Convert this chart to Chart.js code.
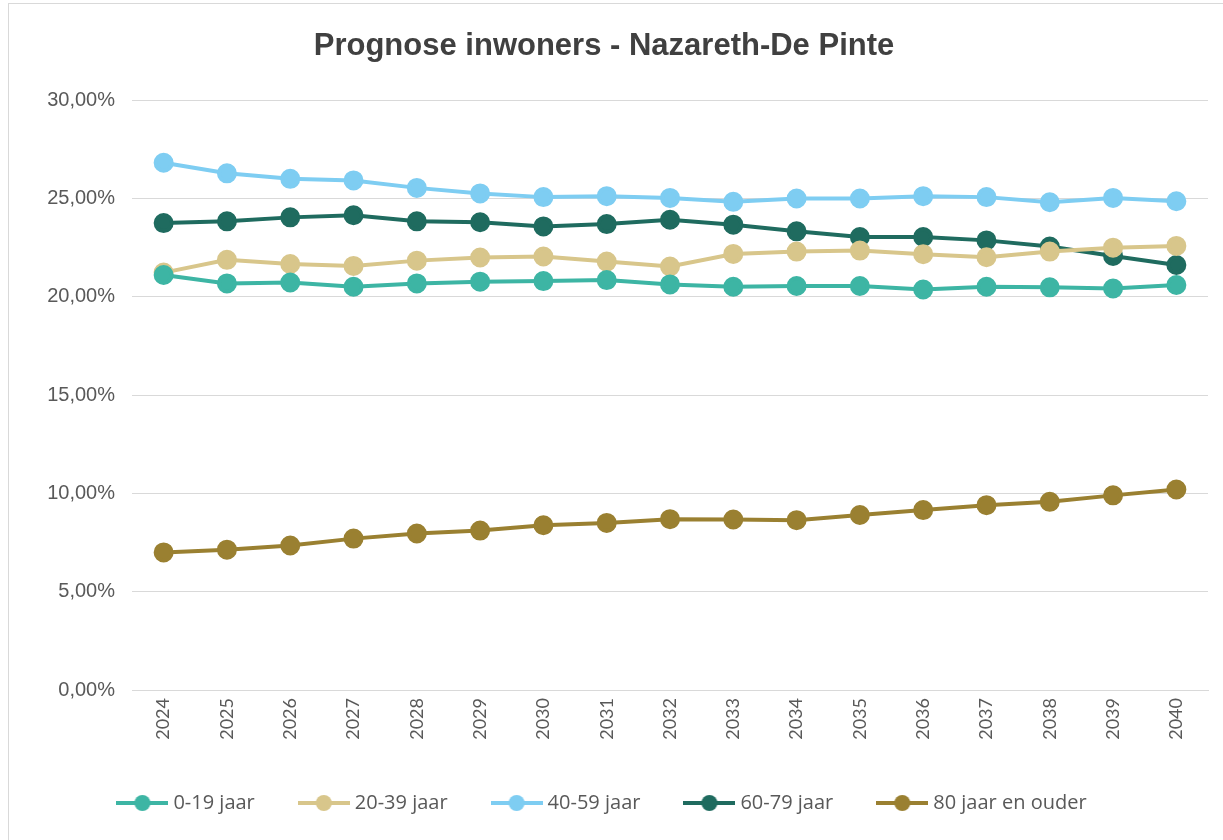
<!DOCTYPE html>
<html>
<head>
<meta charset="utf-8">
<script src="https://cdn.jsdelivr.net/npm/chart.js@4.4.1/dist/chart.umd.min.js"></script>
<style>
  html, body { margin: 0; padding: 0; background: #fff; }
  #frame { position: absolute; left: 8px; top: 3px; width: 1240px; height: 860px; border: 1px solid #d9d9d9; }
  #wrap { position: absolute; left: 0; top: 0; width: 1223px; height: 840px; }
</style>
</head>
<body>
<div id="frame"></div>
<div id="wrap"><canvas id="chart"></canvas></div>
<script>
const years = ["2024", "2025", "2026", "2027", "2028", "2029", "2030", "2031", "2032",
  "2033", "2034", "2035", "2036", "2037", "2038", "2039", "2040"];

const age0_19 = [21.11, 20.68, 20.73, 20.51, 20.68, 20.77, 20.80, 20.85, 20.63,
  20.51, 20.55, 20.55, 20.37, 20.51, 20.48, 20.42, 20.60];
const age20_39 = [21.23, 21.88, 21.67, 21.57, 21.84, 22.00, 22.05, 21.79, 21.54,
  22.18, 22.30, 22.35, 22.17, 22.01, 22.30, 22.50, 22.59];
const age40_59 = [26.82, 26.28, 26.00, 25.92, 25.54, 25.26, 25.07, 25.12, 25.03,
  24.83, 25.00, 25.00, 25.12, 25.07, 24.81, 25.03, 24.86];
const age60_79 = [23.75, 23.84, 24.04, 24.15, 23.84, 23.79, 23.58, 23.70, 23.92,
  23.67, 23.33, 23.04, 23.04, 22.87, 22.56, 22.08, 21.62];
const age80plus = [7.00, 7.14, 7.35, 7.70, 7.96, 8.11, 8.38, 8.50, 8.69,
  8.67, 8.64, 8.90, 9.15, 9.40, 9.57, 9.90, 10.20];

const seriesLabels = ["0-19 jaar", "20-39 jaar", "40-59 jaar", "60-79 jaar", "80 jaar en ouder"];
const seriesColors = ["#3db5a4", "#d8c68b", "#7ecdf2", "#1f6b5f", "#9a8031"];
const yTicks = [0, 5, 10, 15, 20, 25, 30];

const textColor = "#595959";

// legend marker: short line with a dot in the middle, like Excel
function legendMarker(color) {
  const c = document.createElement("canvas");
  c.width = 52;
  c.height = 18;
  const g = c.getContext("2d");
  g.strokeStyle = color;
  g.lineWidth = 4;
  g.beginPath();
  g.moveTo(0, 9);
  g.lineTo(52, 9);
  g.stroke();
  g.fillStyle = color;
  g.beginPath();
  g.arc(26, 9, 8, 0, Math.PI * 2);
  g.fill();
  return c;
}

const allSeries = [age0_19, age20_39, age40_59, age60_79, age80plus];

const datasets = allSeries.map((vals, i) => ({
  label: seriesLabels[i],
  data: vals,
  borderColor: seriesColors[i],
  backgroundColor: seriesColors[i],
  pointBackgroundColor: seriesColors[i],
  pointBorderColor: seriesColors[i],
  borderWidth: 4,
  pointRadius: 8,
  pointHoverRadius: 8,
  pointStyle: "circle",
  tension: 0,
  fill: false,
}));

const ctx = document.getElementById("chart").getContext("2d");

new Chart(ctx, {
  type: "line",
  data: { labels: years, datasets: datasets },
  options: {
    responsive: true,
    maintainAspectRatio: false,
    animation: false,
    layout: { padding: { top: 28, left: 0, right: 15, bottom: 17 } },
    plugins: {
      title: {
        display: true,
        text: "Prognose inwoners - Nazareth-De Pinte",
        color: "#404040",
        font: { family: "'Liberation Sans', Arial, sans-serif", size: 31, weight: "bold", lineHeight: 1.2 },
        padding: { top: 0, bottom: 35 },
      },
      legend: {
        position: "bottom",
        labels: {
          color: textColor,
          font: { family: "'Open Sans', sans-serif", size: 20 },
          usePointStyle: true,
          pointStyleWidth: 42,
          padding: 48,
          generateLabels: (chart) => {
            const items = Chart.defaults.plugins.legend.labels.generateLabels(chart);
            items.forEach((it, i) => { it.pointStyle = legendMarker(seriesColors[i]); });
            return items;
          },
        },
      },
      tooltip: { enabled: false },
    },
    scales: {
      x: {
        offset: true,
        grid: { display: false, drawTicks: false },
        border: { color: "#d9d9d9", width: 1 },
        ticks: {
          color: textColor,
          font: { family: "Lato, sans-serif", size: 18 },
          minRotation: 90,
          maxRotation: 90,
          padding: 8,
        },
        afterFit: (axis) => { axis.height = 55; },
      },
      y: {
        min: 0,
        max: 30,
        afterBuildTicks: (axis) => { axis.ticks = yTicks.map((v) => ({ value: v })); },
        grid: { color: "#d9d9d9", lineWidth: 1, drawTicks: false },
        border: { display: false },
        ticks: {
          color: textColor,
          font: { family: "'Liberation Sans', Arial, sans-serif", size: 20 },
          padding: 17,
          callback: (v) => v.toFixed(2).replace(".", ",") + "%",
        },
        afterFit: (axis) => { axis.width = 132; },
      },
    },
  },
});
</script>
</body>
</html>
